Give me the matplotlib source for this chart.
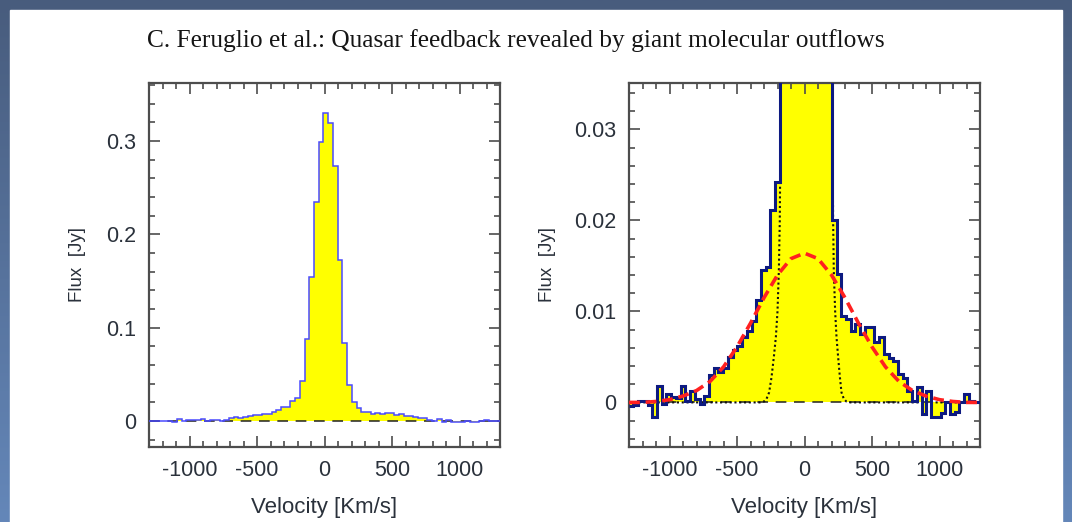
import matplotlib.pyplot as plt
import numpy as np
from matplotlib.patches import Rectangle
from matplotlib.ticker import MultipleLocator, FuncFormatter

title = "C. Feruglio et al.: Quasar feedback revealed by giant molecular outflows"

# channel centres (km/s) and measured flux (Jy)
velocity = [-1285, -1250, -1215, -1180, -1145, -1110, -1075, -1040, -1005, -970,
            -935, -900, -865, -830, -795, -760, -725, -690, -655, -620,
            -585, -550, -515, -480, -445, -410, -375, -340, -305, -270,
            -235, -200, -165, -130, -95, -60, -25, 10, 45, 80,
            115, 150, 185, 220, 255, 290, 325, 360, 395, 430,
            465, 500, 535, 570, 605, 640, 675, 710, 745, 780,
            815, 850, 885, 920, 955, 990, 1025, 1060, 1095, 1130,
            1165, 1200, 1235, 1270, 1305]
flux = [-0.0004, -0.0003, 0.0002, 0.0002, -0.0003, -0.0016, 0.0018, -0.0002, 0.0009, 0.0006,
        0.0005, 0.0018, 0.0002, 0.0013, 0.0004, -0.0002, 0.0007, 0.0030, 0.0038, 0.0033,
        0.0038, 0.0050, 0.0058, 0.0062, 0.0072, 0.0078, 0.0090, 0.0112, 0.0145, 0.0149,
        0.0211, 0.0242, 0.043, 0.088, 0.154, 0.234, 0.299, 0.330, 0.319, 0.273,
        0.172, 0.083, 0.038, 0.0200, 0.0141, 0.0095, 0.0092, 0.0078, 0.0086, 0.0075,
        0.0083, 0.0083, 0.0066, 0.0072, 0.0053, 0.0049, 0.0046, 0.0031, 0.0027, 0.0012,
        0.0002, 0.0017, -0.0013, 0.0013, -0.0016, -0.0016, -0.0012, 0.0000, -0.0013, -0.0010,
        0.0000, 0.0009, 0.0001, 0.0000, 0.0000]

# broad component (red dashed)
broad_v = [-1300, -1200, -1100, -1000, -900, -800, -700, -600, -500, -400, -300, -200, -100,
           0, 100, 200, 300, 400, 500, 600, 700, 800, 900, 1000, 1100, 1200, 1300]
broad_f = [0.0, 0.0, 0.0001, 0.0003, 0.0007, 0.0013, 0.0023, 0.0039, 0.0061, 0.0087, 0.0115, 0.0140, 0.0158,
           0.0164, 0.0158, 0.0140, 0.0115, 0.0087, 0.0061, 0.0039, 0.0023, 0.0013, 0.0007, 0.0003, 0.0001, 0.0, 0.0]

# narrow core component (black dotted)
core_v = [-1300, -330, -300, -281, -262, -244, -227, -212, -200, -190, -183, -178, -170, 15,
          200, 207, 212, 217, 227, 237, 249, 262, 274, 291, 310, 340, 1300]
core_f = [0.0, 0.0, 0.0001, 0.0004, 0.0011, 0.0028, 0.005, 0.0072, 0.010, 0.0145, 0.020, 0.030, 0.060, 0.33,
          0.060, 0.030, 0.020, 0.0145, 0.010, 0.0072, 0.005, 0.0028, 0.0011, 0.0004, 0.0001, 0.0, 0.0]

vel = np.array(velocity, dtype=float)
half = 17.5
edges = np.append(vel - half, vel[-1] + half)

W, H = 1072, 522
fig = plt.figure(figsize=(W / 100, H / 100), dpi=100)

# slide background
bg = fig.add_axes([0, 0, 1, 1], zorder=0)
top_c = np.array([72, 92, 125]) / 255
bot_c = np.array([100, 135, 185]) / 255
t = np.linspace(0, 1, 256)[:, None]
grad = (top_c * (1 - t) + bot_c * t)[:, None, :]
bg.imshow(grad, aspect="auto", extent=[0, 1, 0, 1])
bg.add_patch(Rectangle((10 / W, 0), 1052 / W, 512 / H, color="white", transform=bg.transAxes))
bg.set_xlim(0, 1)
bg.set_ylim(0, 1)
bg.axis("off")

fig.text(516 / W, 1 - 41 / H, title, ha="center", va="center",
         family="Liberation Serif", fontsize=18.3, color="#151515")

label_font = ["Liberation Sans"]
frame_c = "#4d4d4d"
text_c = "#2a313b"


def fmt(v, _):
    if abs(v) < 1e-9:
        return "0"
    return f"{round(v, 4):g}"


def style(ax, ymajor, yminor, ylab_x):
    ax.set_xlim(-1300, 1300)
    ax.xaxis.set_major_locator(MultipleLocator(500))
    ax.xaxis.set_minor_locator(MultipleLocator(100))
    ax.yaxis.set_major_locator(MultipleLocator(ymajor))
    ax.yaxis.set_minor_locator(MultipleLocator(yminor))
    ax.xaxis.set_major_formatter(FuncFormatter(fmt))
    ax.yaxis.set_major_formatter(FuncFormatter(fmt))
    ax.tick_params(which="both", direction="in", top=True, right=True, color=frame_c, width=1.2)
    ax.tick_params(which="major", length=8, labelsize=15.5, labelcolor=text_c, pad=9)
    ax.tick_params(which="minor", length=4)
    for lab in ax.get_xticklabels() + ax.get_yticklabels():
        lab.set_family(label_font)
    for s in ax.spines.values():
        s.set_color(frame_c)
        s.set_linewidth(1.6)
    ax.set_xlabel("Velocity [Km/s]", family=label_font, fontsize=16, color=text_c, va="center")
    ax.xaxis.set_label_coords(0.5, -(508 - 447) / 364)
    ax.set_ylabel("Flux  [Jy]", family=label_font, fontsize=13.5, color=text_c, va="center")
    ax.yaxis.set_label_coords(ylab_x, 0.5)


ax1 = fig.add_axes([149 / W, 1 - 447 / H, 351 / W, 364 / H], zorder=2)
ax1.stairs(flux, edges, baseline=0, fill=True, color="#ffff00", zorder=1)
ax1.axhline(0, color="#222222", lw=1.1, ls=(0, (7, 5)), zorder=2)
ax1.stairs(flux, edges, baseline=None, color="#4a4aff", lw=1.1, zorder=3)
ax1.set_ylim(-0.028, 0.362)
style(ax1, 0.1, 0.02, (77 - 149) / 351)

ax2 = fig.add_axes([629 / W, 1 - 447 / H, 351 / W, 364 / H], zorder=2)
ax2.stairs(flux, edges, baseline=0, fill=True, color="#ffff00", zorder=1)
ax2.axhline(0, color="#222222", lw=1.1, ls=(0, (7, 5)), zorder=2)
ax2.plot(core_v, core_f, color="#111111", lw=1.5, ls=(0, (1, 1.3)), zorder=2.5)
ax2.stairs(flux, edges, baseline=None, color="#0d1a80", lw=2.2, zorder=3)
ax2.plot(broad_v, broad_f, color="#ff2020", lw=2.6, ls=(0, (3, 1.6)), zorder=4)
ax2.set_ylim(-0.0049, 0.0351)
style(ax2, 0.01, 0.002, (548 - 629) / 351)

fig.savefig("out.png", dpi=100)
